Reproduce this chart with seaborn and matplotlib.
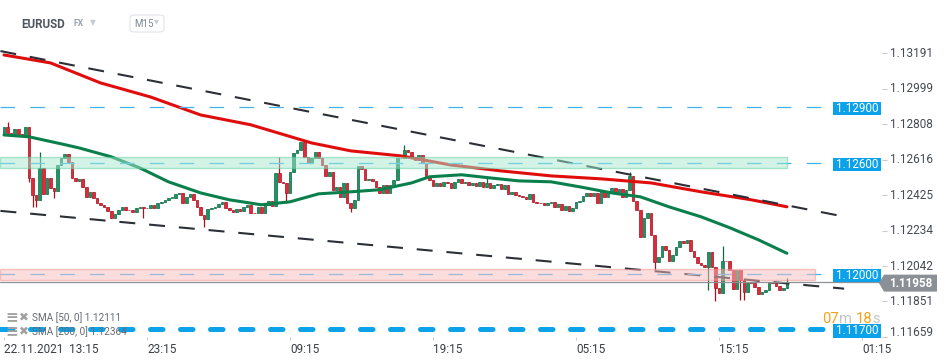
"""EURUSD M15 chart with SMA50/SMA200, trend lines and key levels."""

import matplotlib
matplotlib.use("Agg")
import matplotlib.pyplot as plt
import matplotlib.transforms as mtransforms
from matplotlib.patches import Rectangle, Polygon, FancyBboxPatch
import numpy as np
import pandas as pd
import seaborn as sns


# ── Data ──────────────────────────────────────────────────────────────────────
SYMBOL = "EURUSD"
MARKET = "FX"
TIMEFRAME = "M15"

open_first = 1.12750
close = [
    1.12793, 1.12761, 1.12756, 1.12783, 1.12756, 1.12752, 1.12793, 1.12518, 1.12427, 1.12400,
    1.12572, 1.12432, 1.12518, 1.12464, 1.12448, 1.12589, 1.12626, 1.12648, 1.12605, 1.12518,
    1.12502, 1.12513, 1.12470, 1.12416, 1.12443, 1.12410, 1.12383, 1.12373, 1.12362, 1.12340,
    1.12302, 1.12324, 1.12346, 1.12362, 1.12346, 1.12343, 1.12335, 1.12356, 1.12362, 1.12356,
    1.12354, 1.12373, 1.12356, 1.12383, 1.12389, 1.12400, 1.12410, 1.12412, 1.12432, 1.12434,
    1.12383, 1.12416, 1.12432, 1.12400, 1.12362, 1.12319, 1.12297, 1.12351, 1.12356, 1.12362,
    1.12378, 1.12389, 1.12356, 1.12346, 1.12335, 1.12351, 1.12340, 1.12362, 1.12373, 1.12329,
    1.12327, 1.12362, 1.12329, 1.12373, 1.12394, 1.12367, 1.12545, 1.12497, 1.12491, 1.12437,
    1.12551, 1.12653, 1.12669, 1.12713, 1.12632, 1.12599, 1.12626, 1.12658, 1.12626, 1.12589,
    1.12529, 1.12551, 1.12454, 1.12470, 1.12416, 1.12491, 1.12383, 1.12356, 1.12400, 1.12583,
    1.12567, 1.12508, 1.12513, 1.12502, 1.12470, 1.12437, 1.12481, 1.12437, 1.12481, 1.12508,
    1.12626, 1.12624, 1.12669, 1.12658, 1.12632, 1.12615, 1.12642, 1.12599, 1.12529, 1.12508,
    1.12475, 1.12491, 1.12475, 1.12497, 1.12491, 1.12464, 1.12497, 1.12513, 1.12491, 1.12497,
    1.12481, 1.12491, 1.12475, 1.12497, 1.12470, 1.12491, 1.12464, 1.12481, 1.12486, 1.12459,
    1.12481, 1.12432, 1.12443, 1.12427, 1.12421, 1.12416, 1.12405, 1.12432, 1.12389, 1.12383,
    1.12381, 1.12373, 1.12383, 1.12389, 1.12362, 1.12378, 1.12346, 1.12367, 1.12340, 1.12356,
    1.12389, 1.12394, 1.12421, 1.12437, 1.12421, 1.12437, 1.12383, 1.12448, 1.12416, 1.12437,
    1.12464, 1.12443, 1.12459, 1.12416, 1.12454, 1.12529, 1.12394, 1.12346, 1.12200, 1.12302,
    1.12329, 1.12211, 1.12065, 1.12092, 1.12152, 1.12130, 1.12071, 1.12103, 1.12146, 1.12179,
    1.12168, 1.12184, 1.12125, 1.12092, 1.12060, 1.12049, 1.12038, 1.12119, 1.12038, 1.11925,
    1.11898, 1.12071, 1.12068, 1.12022, 1.11920, 1.12022, 1.11968, 1.11903, 1.11952, 1.11950,
    1.11930, 1.11893, 1.11903, 1.11914, 1.11952, 1.11950, 1.11936, 1.11914, 1.11925, 1.11958,
]
# bars whose wick reaches past the body
wick_high = {1: 1.12820, 10: 1.12658, 77: 1.12632, 83: 1.12686, 112: 1.12697,
             135: 1.12524, 175: 1.12551, 201: 1.12152, 219: 1.11979}
wick_low = {7: 1.12497, 8: 1.12362, 9: 1.12362, 14: 1.12410, 39: 1.12302, 56: 1.12254,
            79: 1.12383, 97: 1.12335, 182: 1.12022, 197: 1.11914, 199: 1.11854,
            206: 1.11860, 207: 1.11860}

sma50_bar = [0, 7, 16, 21, 30, 38, 46, 55, 63, 72, 80, 88, 97, 105, 114, 119, 128, 136,
             144, 153, 161, 170, 178, 186, 195, 203, 211, 219]
sma50 = [1.12750, 1.12740, 1.12702, 1.12680, 1.12632, 1.12572, 1.12497, 1.12437, 1.12400,
         1.12373, 1.12389, 1.12432, 1.12443, 1.12454, 1.12491, 1.12524, 1.12535, 1.12518,
         1.12502, 1.12497, 1.12470, 1.12437, 1.12416, 1.12362, 1.12308, 1.12249, 1.12184,
         1.12111]
sma200_bar = [0, 13, 27, 41, 55, 69, 86, 97, 111, 125, 139, 153, 167, 181, 195, 209, 219]
sma200 = [1.13182, 1.13139, 1.13031, 1.12955, 1.12858, 1.12805, 1.12707, 1.12664, 1.12637,
          1.12588, 1.12556, 1.12529, 1.12513, 1.12491, 1.12443, 1.12400, 1.12362]

price_ticks = [1.13191, 1.12999, 1.12808, 1.12616, 1.12425, 1.12234, 1.12042, 1.11851, 1.11659]
time_tick_bars = [0, 40, 80, 120, 160, 200, 240]
time_tick_labels = ["22.11.2021  13:15", "23:15", "09:15", "19:15", "05:15", "15:15", "01:15"]

levels = [1.12900, 1.12600, 1.12000]
support_level = 1.11700
zone_green = (1.12571, 1.12630)
zone_red = (1.11968, 1.12027)
trend_upper_bar, trend_upper = [-1, 234], [1.13203, 1.12313]
trend_lower_bar, trend_lower = [-1, 235], [1.12340, 1.11920]
last_price = 1.11958
sma_legend = [("SMA [50, 0]", 1.12111), ("SMA [200, 0]", 1.12364)]
countdown = ["07", "m", "18", "s"]


# ── Layout / style ────────────────────────────────────────────────────────────
W, H = 950, 364
AX_R, AX_T, AX_B = 882, 40, 337          # axes box in pixels
PX_PER_BAR = 3.575
PRICE_PER_PX = 0.00005394
Y_TOP = 1.134785 - PRICE_PER_PX * AX_T
Y_BOT = 1.134785 - PRICE_PER_PX * AX_B

UP, UP_EDGE = "#1c9463", "#0f6b44"
DN, DN_EDGE = "#dd2b3b", "#a8121f"
BLUE = "#0ba2e9"

sns.set_theme(style="white")
plt.rcParams["font.family"] = ["Roboto", "DejaVu Sans"]
plt.rcParams["lines.scale_dashes"] = False

fig = plt.figure(figsize=(W / 100, H / 100), dpi=100)
ax = fig.add_axes([0, 1 - AX_B / H, AX_R / W, (AX_B - AX_T) / H])
ax.set_xlim(-4 / PX_PER_BAR, (AX_R - 4) / PX_PER_BAR)
ax.set_ylim(Y_BOT, Y_TOP)
for s in ax.spines.values():
    s.set_visible(False)
blend = mtransforms.blended_transform_factory(ax.transAxes, ax.transData)

# ── Candles ───────────────────────────────────────────────────────────────────
df = pd.DataFrame({"close": close})
df["bar"] = np.arange(len(df))
df["open"] = [open_first] + close[:-1]
df["high"] = df[["open", "close"]].max(axis=1)
df["low"] = df[["open", "close"]].min(axis=1)
for i, v in wick_high.items():
    df.loc[i, "high"] = v
for i, v in wick_low.items():
    df.loc[i, "low"] = v
up = df["close"] >= df["open"]
body_lo = df[["open", "close"]].min(axis=1)
body_h = (df["close"] - df["open"]).abs().clip(lower=0.00004)

ax.vlines(df["bar"], df["low"], df["high"],
          colors=np.where(up, UP_EDGE, DN_EDGE), lw=0.9, zorder=2)
ax.bar(df["bar"], body_h, bottom=body_lo, width=0.72,
       color=np.where(up, UP, DN), edgecolor=np.where(up, UP_EDGE, DN_EDGE),
       linewidth=0.5, zorder=2.5)

# ── Moving averages ───────────────────────────────────────────────────────────
sns.lineplot(x=sma200_bar, y=sma200, ax=ax, color="#e00d0d", lw=2.2, zorder=3)
sns.lineplot(x=sma50_bar, y=sma50, ax=ax, color="#0a7f4c", lw=2.2, zorder=3)

# ── Trend lines & levels ──────────────────────────────────────────────────────
for xs, ys in [(trend_upper_bar, trend_upper), (trend_lower_bar, trend_lower)]:
    ax.plot(xs, ys, color="#2b2f36", lw=1.5, ls=(0, (11.5, 10)), zorder=4)

for lv in levels:
    ax.axhline(lv, xmin=0, xmax=832 / AX_R, color="#41b4f0", lw=0.9,
               ls=(0, (10.5, 11)), zorder=4)
ax.axhline(last_price, xmin=0, xmax=1, color="#8d9196", lw=0.9, zorder=4)
ax.axhline(support_level, xmin=0, xmax=832 / AX_R, color=BLUE, lw=3.6,
           ls=(0, (9, 12.6)), dash_capstyle="round", zorder=7)

ax.axhspan(*zone_green, xmin=0, xmax=787 / AX_R, fc="#a6e9cf", ec="#5fcf9f",
           lw=1, alpha=0.5, zorder=6)
ax.axhspan(*zone_red, xmin=0, xmax=815 / AX_R, fc="#f8bdbd", ec="#ef8f8f",
           lw=1, alpha=0.5, zorder=6)

# ── Price tags on the right ───────────────────────────────────────────────────
def price_tag(price, x0, x1, h_px, fc, tc, bold=False, arrow=False, tx=None):
    yc = price - 1.5 * PRICE_PER_PX
    h = h_px * PRICE_PER_PX
    f0, f1 = x0 / AX_R, x1 / AX_R
    if arrow:
        n = 5 / AX_R
        pts = [(f0, yc), (f0 + n, yc + h / 2), (f1, yc + h / 2),
               (f1, yc - h / 2), (f0 + n, yc - h / 2)]
        patch = Polygon(pts, closed=True, transform=blend, fc=fc, ec="none",
                        clip_on=False, zorder=8)
    else:
        patch = Rectangle((f0, yc - h / 2), f1 - f0, h, transform=blend, fc=fc,
                          ec="none", clip_on=False, zorder=8)
    ax.add_patch(patch)
    cx = (tx if tx is not None else (x0 + x1) / 2) / AX_R
    ax.text(cx, yc, f"{price:.5f}", transform=blend, ha="center", va="center",
            color=tc, fontsize=8.4, fontweight="bold" if bold else "normal",
            clip_on=False, zorder=9)


for lv in levels + [support_level]:
    price_tag(lv, 833, 881, 13.3, BLUE, "white")
price_tag(last_price, 879, 937, 17, "#8b9096", "white", bold=True, arrow=True, tx=911)

# ── Axes ticks ────────────────────────────────────────────────────────────────
ax.yaxis.tick_right()
ax.set_yticks(price_ticks)
ax.tick_params(axis="y", length=3.6, width=0.8, color="#c9c9c9", direction="out",
               labelright=False, right=True)
for p in price_ticks:
    dy = 2.9 if p == price_ticks[-1] else 0
    ax.annotate(f"{p:.5f}", xy=(1, p), xycoords=blend, xytext=(5.8, dy),
                textcoords="offset points", ha="left", va="center",
                fontsize=8.5, color="#444a51", annotation_clip=False)

ax.set_xticks(time_tick_bars)
ax.set_xticklabels(time_tick_labels, ha="left")
ax.tick_params(axis="x", bottom=True, length=2.5, width=0.8, color="#cfcfcf",
               pad=1.5, labelsize=8.5, labelcolor="#3a3f45")
ax.set_xlabel("")
ax.set_ylabel("")

# ── Header ────────────────────────────────────────────────────────────────────
fig.text(21 / W, 1 - 24 / H, SYMBOL, ha="left", va="center", fontsize=8.4,
         fontweight="bold", color="#4d5560")
fig.text(73 / W, 1 - 24 / H, MARKET, ha="left", va="center", fontsize=6.2,
         fontweight="bold", color="#9aa3ad")
fig.text(90 / W, 1 - 22.5 / H, "▼", ha="left", va="center", fontsize=5.5,
         color="#c6cbd1", family="DejaVu Sans")
fig.patches.append(FancyBboxPatch((130 / W, 1 - 32 / H), 34 / W, 17 / H,
                                  boxstyle="round,pad=0,rounding_size=0.006",
                                  transform=fig.transFigure, fc="white",
                                  ec="#e1e4e8", lw=0.8))
fig.text(134 / W, 1 - 24 / H, TIMEFRAME, ha="left", va="center", fontsize=7,
         color="#7b8590")
fig.text(154 / W, 1 - 23 / H, "▼", ha="left", va="center", fontsize=4.5,
         color="#c6cbd1", family="DejaVu Sans")

# ── SMA legend ────────────────────────────────────────────────────────────────
for k, (name, val) in enumerate(sma_legend):
    y = 1 - (318 + 13.5 * k) / H
    fig.text(5 / W, y, "≡", ha="left", va="center", fontsize=11, color="#a0a0a0",
             family="DejaVu Sans", fontweight="bold", zorder=1)
    fig.text(18.5 / W, y, "✖", ha="left", va="center", fontsize=8.5, color="#a0a0a0",
             family="DejaVu Sans", zorder=1)
    fig.text(32 / W, y, f"{name} {val:.5f}", ha="left", va="center", fontsize=7.2,
             color="#656b73", zorder=1)

# ── Candle countdown ──────────────────────────────────────────────────────────
for txt, x0, col in zip(countdown, [822, 839.5, 856, 872.5],
                        ["#f7a11a", "#c2c4c8", "#f7a11a", "#c2c4c8"]):
    fig.text(x0 / W, 1 - 319 / H, txt, ha="left", va="center", fontsize=10.6,
             color=col)

fig.savefig("out.png", dpi=100, facecolor="white")
